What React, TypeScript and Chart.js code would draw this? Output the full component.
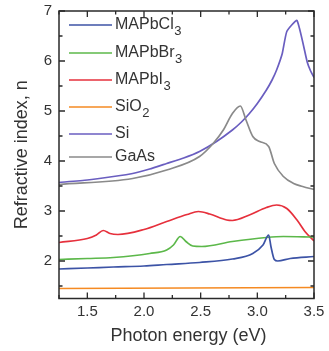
import React, { useEffect, useRef } from "react";
import { Chart, registerables } from "chart.js";

Chart.register(...registerables);

// ---- data ----
const seriesNames = ["MAPbCl3", "MAPbBr3", "MAPbI3", "SiO2", "Si", "GaAs"];

const clE = [1.25, 1.5, 1.73, 2.0, 2.2, 2.49, 2.78, 2.96, 3.05, 3.1, 3.12, 3.15, 3.18, 3.29, 3.5];
const clN = [1.84, 1.86, 1.88, 1.9, 1.93, 1.97, 2.04, 2.15, 2.32, 2.52, 2.29, 2.03, 2.0, 2.05, 2.09];

const brE = [1.25, 1.5, 1.73, 2.05, 2.2, 2.26, 2.32, 2.37, 2.43, 2.51, 2.78, 3.08, 3.23, 3.5];
const brN = [2.03, 2.05, 2.07, 2.15, 2.22, 2.32, 2.49, 2.39, 2.3, 2.29, 2.39, 2.47, 2.49, 2.48];

const iE = [1.25, 1.5, 1.58, 1.64, 1.7, 1.77, 2.0, 2.2, 2.38, 2.48, 2.58, 2.73, 2.78, 2.93, 3.08, 3.17, 3.26, 3.35, 3.42, 3.5];
const iN = [2.37, 2.45, 2.52, 2.61, 2.55, 2.53, 2.63, 2.79, 2.93, 2.99, 2.94, 2.82, 2.81, 2.92, 3.07, 3.12, 3.05, 2.82, 2.59, 2.4];

const sio2E = [1.25, 3.5];
const sio2N = [1.45, 1.47];

const siE = [1.25, 1.5, 1.73, 1.9, 2.05, 2.2, 2.35, 2.49, 2.64, 2.78, 2.86, 2.93, 3.0, 3.08, 3.13, 3.17, 3.22, 3.26, 3.35, 3.44, 3.47, 3.5];
const siN = [3.57, 3.62, 3.69, 3.75, 3.84, 3.95, 4.06, 4.19, 4.39, 4.62, 4.78, 4.95, 5.15, 5.42, 5.62, 5.82, 6.15, 6.59, 6.81, 5.98, 5.8, 5.67];

const gaE = [1.25, 1.9, 2.2, 2.49, 2.61, 2.7, 2.78, 2.85, 2.9, 2.96, 3.02, 3.1, 3.15, 3.23, 3.32, 3.4, 3.5];
const gaN = [3.53, 3.65, 3.82, 4.09, 4.35, 4.62, 4.95, 5.1, 4.82, 4.49, 4.39, 4.29, 3.95, 3.69, 3.55, 3.49, 3.43];

const xTicks = [1.5, 2.0, 2.5, 3.0, 3.5];
const xTickLabels = ["1.5", "2.0", "2.5", "3.0", "3.5"];
const xMinor = [1.25, 1.75, 2.25, 2.75, 3.25];
const yTicks = [2, 3, 4, 5, 6, 7];
const yTickLabels = ["2", "3", "4", "5", "6", "7"];
const yMinor = [1.5, 2.5, 3.5, 4.5, 5.5, 6.5];

const xTitle = "Photon energy (eV)";
const yTitle = "Refractive index, n";

const colors = ["#3c53a6", "#5cb84a", "#e6303c", "#f58a22", "#6a5ec0", "#8a8a8a"];

// legend labels split into [text, subscript]
const legendParts: [string, string][] = [
  ["MAPbCl", "3"],
  ["MAPbBr", "3"],
  ["MAPbI", "3"],
  ["SiO", "2"],
  ["Si", ""],
  ["GaAs", ""],
];

const FONT = "'Liberation Sans', Arial, Helvetica, sans-serif";

const framePlugin = {
  id: "framePlugin",
  afterDraw(chart: any) {
    const { ctx, chartArea } = chart;
    const xs = chart.scales.x;
    const ys = chart.scales.y;
    const { left, right, top, bottom } = chartArea;
    ctx.save();
    ctx.strokeStyle = "#2a2a2a";
    ctx.lineWidth = 1.5;
    ctx.strokeRect(left, top, right - left, bottom - top);

    const major = 6;
    const minor = 3.5;
    ctx.lineWidth = 1.3;
    ctx.beginPath();
    xTicks.forEach((v) => {
      const p = xs.getPixelForValue(v);
      ctx.moveTo(p, bottom);
      ctx.lineTo(p, bottom - major);
      ctx.moveTo(p, top);
      ctx.lineTo(p, top + major);
    });
    xMinor.forEach((v) => {
      const p = xs.getPixelForValue(v);
      ctx.moveTo(p, bottom);
      ctx.lineTo(p, bottom - minor);
      ctx.moveTo(p, top);
      ctx.lineTo(p, top + minor);
    });
    yTicks.forEach((v) => {
      const p = ys.getPixelForValue(v);
      ctx.moveTo(left, p);
      ctx.lineTo(left + major, p);
      ctx.moveTo(right, p);
      ctx.lineTo(right - major, p);
    });
    yMinor.forEach((v) => {
      const p = ys.getPixelForValue(v);
      ctx.moveTo(left, p);
      ctx.lineTo(left + minor, p);
      ctx.moveTo(right, p);
      ctx.lineTo(right - minor, p);
    });
    ctx.stroke();

    // tick labels
    ctx.fillStyle = "#333";
    ctx.font = `15px ${FONT}`;
    ctx.textAlign = "center";
    ctx.textBaseline = "middle";
    xTicks.forEach((v, i) => {
      ctx.fillText(xTickLabels[i], xs.getPixelForValue(v), bottom + 13);
    });
    ctx.textAlign = "right";
    yTicks.forEach((v, i) => {
      ctx.fillText(yTickLabels[i], left - 7, ys.getPixelForValue(v));
    });

    // titles
    ctx.font = `18px ${FONT}`;
    ctx.textAlign = "center";
    ctx.fillText(xTitle, (left + right) / 2 + 2, bottom + 38);
    ctx.save();
    ctx.translate(22, (top + bottom) / 2);
    ctx.rotate(-Math.PI / 2);
    ctx.fillText(yTitle, 0, 0);
    ctx.restore();

    // legend
    const rowY = [25, 53, 80, 107, 134, 157];
    ctx.lineWidth = 1.6;
    legendParts.forEach((parts, i) => {
      const y = rowY[i];
      ctx.strokeStyle = colors[i];
      ctx.beginPath();
      ctx.moveTo(69, y);
      ctx.lineTo(112, y);
      ctx.stroke();
      ctx.fillStyle = "#333";
      ctx.textAlign = "left";
      ctx.textBaseline = "middle";
      ctx.font = `16px ${FONT}`;
      ctx.fillText(parts[0], 115, y);
      const w = ctx.measureText(parts[0]).width;
      if (parts[1]) {
        ctx.font = `13px ${FONT}`;
        ctx.fillText(parts[1], 115 + w + 0.5, y + 6);
      }
    });
    ctx.restore();
  },
};

function toPts(e: number[], n: number[]) {
  return e.map((x, i) => ({ x, y: n[i] }));
}

export default function App() {
  const ref = useRef<HTMLCanvasElement | null>(null);
  useEffect(() => {
    if (!ref.current) return;
    const pairs: [number[], number[]][] = [
      [clE, clN],
      [brE, brN],
      [iE, iN],
      [sio2E, sio2N],
      [siE, siN],
      [gaE, gaN],
    ];
    const order = [3, 5, 4, 0, 1, 2];
    const chart = new Chart(ref.current, {
      type: "line",
      data: {
        datasets: order.map((k) => ({
          label: seriesNames[k],
          data: toPts(pairs[k][0], pairs[k][1]),
          borderColor: colors[k],
          backgroundColor: colors[k],
          borderWidth: 1.7,
          pointRadius: 0,
          ...(k === 4
            ? { tension: 0.15 }
            : { cubicInterpolationMode: "monotone" as const }),
          fill: false,
        })),
      },
      options: {
        responsive: false,
        animation: false,
        layout: { padding: { left: 59, top: 11, right: 15, bottom: 52.5 } },
        plugins: { legend: { display: false }, tooltip: { enabled: false } },
        scales: {
          x: { type: "linear", min: 1.25, max: 3.5, display: false },
          y: { type: "linear", min: 1.25, max: 7, display: false },
        },
      },
      plugins: [framePlugin],
    });
    return () => chart.destroy();
  }, []);
  return (
    <div style={{ position: "absolute", left: 0, top: 0, background: "#fff" }}>
      <canvas ref={ref} width={329} height={351} style={{ display: "block", width: 329, height: 351 }} />
    </div>
  );
}
